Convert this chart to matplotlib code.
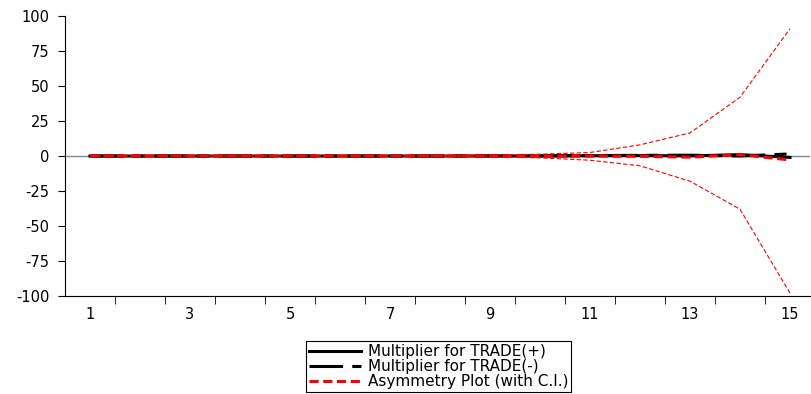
import numpy as np
import matplotlib.pyplot as plt

plt.rcParams['font.family'] = ['DejaVu Sans']
plt.rcParams['axes.unicode_minus'] = False

periods = np.arange(1, 16)
mult_pos = [0.0, 0.0, 0.0, 0.0, 0.0, 0.0, 0.0, 0.0, 0.05, 0.1, 0.2, 0.3, 0.1, 1.0, -1.0]
mult_neg = [0.0, 0.0, 0.0, 0.0, 0.0, 0.0, 0.0, 0.0, 0.05, 0.1, 0.3, 0.5, 0.6, 0.0, 1.5]
asym = [0.0, 0.0, 0.0, 0.0, 0.0, 0.0, 0.0, 0.0, 0.0, -0.2, -0.1, -0.2, -0.8, 1.0, -2.8]
upper = [0.05, 0.05, 0.05, 0.1, 0.1, 0.15, 0.2, 0.3, 0.6, 1.3, 2.5, 8.0, 16.5, 42.0, 91.0]
lower = [-0.05, -0.05, -0.05, -0.1, -0.1, -0.15, -0.2, -0.3, -0.6, -1.3, -3.0, -7.0, -18.0, -38.0, -98.0]

fig = plt.figure(figsize=(8.12, 3.94), dpi=100)
ax = fig.add_axes([0.080, 0.249, 0.9175, 0.710])

ax.axhline(0, color='#888888', lw=1.0, zorder=1)
l1, = ax.plot(periods, mult_pos, color='black', lw=2.2, label='Multiplier for TRADE(+)')
l2, = ax.plot(periods, mult_neg, color='black', lw=2.2, dashes=(11, 3, 4, 3), label='Multiplier for TRADE(-)')
l3, = ax.plot(periods, asym, color='red', lw=2.2, dashes=(3, 1.5), label='Asymmetry Plot (with C.I.)')
ax.plot(periods, upper, color='red', lw=0.8, dashes=(4, 2))
ax.plot(periods, lower, color='red', lw=0.8, dashes=(4, 2))

ax.set_xlim(0.5, 15.4)
ax.set_ylim(-100, 100)
ax.set_yticks(np.arange(-100, 101, 25))
ax.set_xticks(np.arange(1, 16, 2))
ax.set_xticks(np.arange(1.5, 15.5, 1), minor=True)
ax.tick_params(axis='x', which='major', length=0, pad=8, labelsize=10.5)
ax.tick_params(axis='x', which='minor', length=6, direction='out')
ax.tick_params(axis='y', length=5, direction='out', labelsize=10.5, pad=6)
ax.spines['top'].set_visible(False)
ax.spines['right'].set_visible(False)

leg = fig.legend(handles=[l1, l2, l3], loc='lower center', bbox_to_anchor=(0.54, 0.005),
                 fontsize=11, handlelength=3.4, handletextpad=0.45, labelspacing=0.0,
                 borderpad=0.2, borderaxespad=0.0, fancybox=False, edgecolor='black', framealpha=1)
leg.get_frame().set_linewidth(0.8)

fig.savefig('out.png', dpi=100)
